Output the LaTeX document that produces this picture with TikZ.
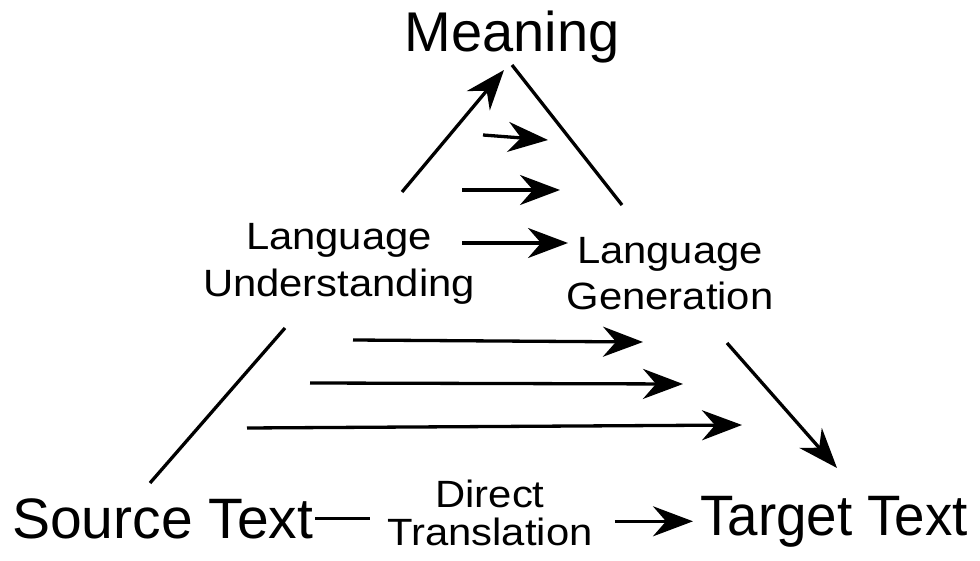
\documentclass[tikz,border=0pt]{standalone}
\usepackage{fontspec}
\setmainfont{Liberation Sans}
\newfontfamily\widefont[FakeStretch=1.1]{Liberation Sans}
\newfontfamily\narrowfont[FakeStretch=0.96]{Liberation Sans}
\usetikzlibrary{arrows.meta}
\begin{document}
\begin{tikzpicture}[x=1pt, y=-1pt,
    ln/.style={line width=3.3pt},
    arr/.style={line width=3.3pt, -{Stealth[length=40pt, width=30pt, inset=13pt]}},
    big/.style={font=\fontsize{56}{60}\selectfont, inner sep=2pt},
    mid/.style={font=\widefont\fontsize{38}{47}\selectfont, align=center, inner sep=0pt}]
    \useasboundingbox (0,0) rectangle (980,561);

    % corners and middle labels
    \node[big, anchor=base] (mean) at (512,52) {Meaning};
    \node[big, anchor=base west, font=\fontsize{57}{60}\selectfont] (src) at (10,538) {Source Text};
    \node[big, anchor=base west, font=\narrowfont\fontsize{57}{60}\selectfont] (tgt) at (698,535) {Target Text};
    \node[mid, anchor=base] (lu) at (339,297) {Language\\Understanding};
    \node[mid, anchor=base] (lg) at (670,310) {Language\\Generation};
    \node[mid, anchor=base, font=\widefont\fontsize{38}{38}\selectfont] (dt) at (490,545) {Direct\\Translation};

    % ends of the sides
    \coordinate (luTop) at (402,192);
    \coordinate (meanL) at (504,70);
    \coordinate (meanR) at (512,65);
    \coordinate (lgTop) at (622,205);
    \coordinate (luBot) at (285,328);
    \coordinate (srcTop) at (150,483);
    \coordinate (lgBot) at (727,343);
    \coordinate (tgtTop) at (837,468);

    \draw[arr] (luTop) -- (meanL);
    \draw[ln] (meanR) -- (lgTop);
    \draw[ln] (luBot) -- (srcTop);
    \draw[arr] (lgBot) -- (tgtTop);

    % bottom side
    \draw[ln, shorten >=17pt] (src.east) -- (src.east -| dt.west);
    \draw[arr, shorten <=22pt, shorten >=5pt] (dt.east |- tgt.west) -- (tgt.west);

    % transfer arrows
    \coordinate (h1a) at (483,135); \coordinate (h1b) at (548,140);
    \coordinate (h2a) at (462,190); \coordinate (h2b) at (560,190);
    \coordinate (h3a) at (462,243); \coordinate (h3b) at (568,243);
    \coordinate (h4a) at (353,340); \coordinate (h4b) at (643,342);
    \coordinate (h5a) at (310,383); \coordinate (h5b) at (683,384);
    \coordinate (h6a) at (247,428); \coordinate (h6b) at (742,425);

    \draw[arr] (h1a) -- (h1b);
    \draw[arr] (h2a) -- (h2b);
    \draw[arr] (h3a) -- (h3b);
    \draw[arr] (h4a) -- (h4b);
    \draw[arr] (h5a) -- (h5b);
    \draw[arr] (h6a) -- (h6b);
\end{tikzpicture}
\end{document}
